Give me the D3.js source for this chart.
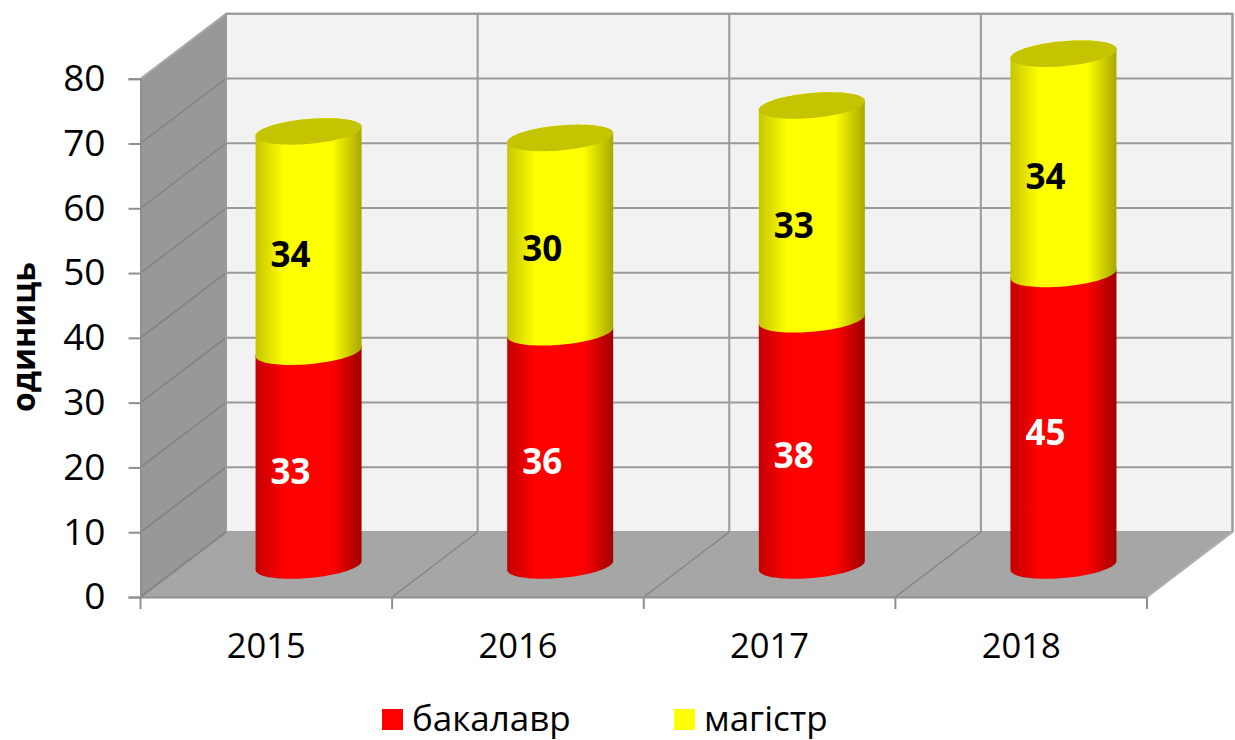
<!DOCTYPE html>
<html>
<head>
<meta charset="utf-8">
<script src="https://cdn.jsdelivr.net/npm/d3@7"></script>
<style>
  html, body { margin: 0; padding: 0; background: #fff; }
  text { font-family: "Open Sans", sans-serif; fill: #000; }
</style>
</head>
<body>
<div id="chart"></div>
<script>
(function() {
  "use strict";

  var categories = ["2015", "2016", "2017", "2018"];
  var seriesNames = ["бакалавр", "магістр"];
  var bachelor = [33, 36, 38, 45];
  var master = [34, 30, 33, 34];
  var yTicks = [0, 10, 20, 30, 40, 50, 60, 70, 80];
  var axisTitle = "одиниць";

  var width = 1235, height = 740;
  var depthX = 85.5, depthY = 65;
  var radiusX = 53, radiusY = 12.5, shear = 4.5;
  var gridColor = "#8f8f8f";

  var svg = d3.select("#chart").append("svg")
    .attr("width", width)
    .attr("height", height)
    .style("display", "block");

  var x = d3.scaleBand().domain(categories).range([140.5, 1147]);
  var y = d3.scaleLinear().domain([0, 80]).range([597, 78.7]);
  var x0 = x.range()[0], x1 = x.range()[1];
  var edges = d3.range(categories.length + 1).map(function(i) {
    return x0 + i * x.step();
  });

  function poly(points) {
    return "M" + points.join("L") + "Z";
  }

  /* ------- WALLS AND FLOOR -------*/

  svg.append("path")
    .attr("d", poly([[x0 + depthX, y(80) - depthY], [x1 + depthX, y(80) - depthY],
      [x1 + depthX, y(0) - depthY], [x0 + depthX, y(0) - depthY]]))
    .attr("fill", "#f2f2f2")
    .attr("stroke", "#a0a0a0")
    .attr("stroke-width", 2);

  svg.append("path")
    .attr("d", poly([[x0, y(80)], [x0 + depthX, y(80) - depthY],
      [x0 + depthX, y(0) - depthY], [x0, y(0)]]))
    .attr("fill", "#989898");

  svg.append("path")
    .attr("d", poly([[x0, y(0)], [x0 + depthX, y(0) - depthY],
      [x1 + depthX, y(0) - depthY], [x1, y(0)]]))
    .attr("fill", "#a6a6a6");

  var grid = svg.append("g")
    .attr("fill", "none")
    .attr("stroke", gridColor)
    .attr("stroke-width", 2);

  // back wall and side wall lines for every value tick
  yTicks.forEach(function(v) {
    if (v > 0) {
      grid.append("path")
        .attr("stroke", "#9a9a9a")
        .attr("d", "M" + [x0 + depthX, y(v) - depthY] + "L" + [x1 + depthX, y(v) - depthY]);
    }
    grid.append("path")
      .attr("stroke-width", v === 80 ? 2 : 1.5)
      .attr("stroke", v === 0 ? "#8a8a8a" : (v === 80 ? "#a8a8a8" : "#828282"))
      .attr("d", "M" + [x0, y(v)] + "L" + [x0 + depthX, y(v) - depthY]);
  });

  // vertical lines on back wall, diagonals on the floor
  edges.forEach(function(e, i) {
    grid.append("path")
      .attr("stroke", "#9a9a9a")
      .attr("d", "M" + [e + depthX, y(80) - depthY] + "L" + [e + depthX, y(0) - depthY]);
    grid.append("path")
      .attr("stroke-width", i === 0 || i === categories.length ? 2 : 1.5)
      .attr("stroke", i === categories.length ? "#b0b0b0" : "#858585")
      .attr("d", "M" + [e, y(0)] + "L" + [e + depthX, y(0) - depthY]);
  });

  /* ------- CYLINDERS -------*/

  var defs = svg.append("defs");

  function addGradient(id, edgeLeft, mid, edgeRight) {
    var g = defs.append("linearGradient").attr("id", id);
    [[0, edgeLeft], [0.27, mid], [0.72, mid], [1, edgeRight]].forEach(function(s) {
      g.append("stop").attr("offset", s[0]).attr("stop-color", s[1]);
    });
  }
  addGradient("red-side", "#c40000", "#ff0000", "#a00000");
  addGradient("yellow-side", "#c6c600", "#ffff00", "#a8a800");

  function ringPoint(cx, cy, t) {
    return [cx + radiusX * Math.cos(t), cy + radiusY * Math.sin(t) - shear * Math.cos(t)];
  }

  var steps = d3.range(0, 49).map(function(i) { return i / 48 * Math.PI; });

  // lower half of the base ring, then back across the upper half of the top ring
  function sidePath(cx, yBottom, yTop) {
    var lower = steps.map(function(t) { return ringPoint(cx, yBottom, t); });
    var upper = steps.map(function(t) { return ringPoint(cx, yTop, Math.PI + t); });
    return poly(lower.concat(upper));
  }

  function capPath(cx, cy) {
    return poly(d3.range(0, 96).map(function(i) {
      return ringPoint(cx, cy, i / 96 * 2 * Math.PI);
    }));
  }

  function centerX(cat) {
    return x(cat) + x.bandwidth() / 2 + depthX / 2 - 0.5;
  }
  function centerY(v) {
    return y(v) - depthY / 2 + 1;
  }

  var bars = svg.append("g").selectAll("g")
    .data(categories)
    .enter()
    .append("g");

  bars.append("path")
    .attr("fill", "url(#red-side)")
    .attr("d", function(d, i) {
      return sidePath(centerX(d), centerY(0), centerY(bachelor[i]));
    });

  bars.append("path")
    .attr("fill", "url(#yellow-side)")
    .attr("d", function(d, i) {
      return sidePath(centerX(d), centerY(bachelor[i]), centerY(bachelor[i] + master[i]));
    });

  bars.append("path")
    .attr("fill", "#c4c400")
    .attr("d", function(d, i) {
      return capPath(centerX(d), centerY(bachelor[i] + master[i]));
    });

  /* ------- DATA LABELS -------*/

  var labelShiftX = -18, labelShiftY = 13;

  bars.append("text")
    .attr("x", function(d) { return centerX(d) + labelShiftX; })
    .attr("y", function(d, i) { return centerY(bachelor[i] / 2) + labelShiftY; })
    .attr("dy", "0.36em")
    .attr("text-anchor", "middle")
    .attr("font-size", 35)
    .attr("font-weight", 700)
    .style("fill", "#fff")
    .text(function(d, i) { return bachelor[i]; });

  bars.append("text")
    .attr("x", function(d) { return centerX(d) + labelShiftX; })
    .attr("y", function(d, i) { return centerY(bachelor[i] + master[i] / 2) + labelShiftY; })
    .attr("dy", "0.36em")
    .attr("text-anchor", "middle")
    .attr("font-size", 35)
    .attr("font-weight", 700)
    .text(function(d, i) { return master[i]; });

  /* ------- AXES -------*/

  var yAxis = svg.append("g")
    .attr("transform", "translate(" + x0 + ",0)")
    .call(d3.axisLeft(y).tickValues(yTicks).tickSize(12).tickPadding(23));

  var xAxis = svg.append("g")
    .attr("transform", "translate(0," + y(0) + ")")
    .call(d3.axisBottom(x).tickSize(0).tickPadding(37));

  yAxis.select(".domain").attr("stroke", gridColor).attr("stroke-width", 2);
  xAxis.select(".domain").attr("stroke", gridColor).attr("stroke-width", 2);
  yAxis.selectAll("line").attr("stroke", gridColor).attr("stroke-width", 2);
  yAxis.selectAll("text").attr("font-size", 37).attr("font-family", "Open Sans");
  xAxis.selectAll("text").attr("font-size", 34.5).attr("font-family", "Open Sans");

  xAxis.selectAll(".edge-tick")
    .data(edges)
    .enter()
    .append("line")
    .attr("class", "edge-tick")
    .attr("x1", function(d) { return d; })
    .attr("x2", function(d) { return d; })
    .attr("y1", 0)
    .attr("y2", 12)
    .attr("stroke", gridColor)
    .attr("stroke-width", 2);

  svg.append("text")
    .attr("transform", "translate(35,337) rotate(-90)")
    .attr("text-anchor", "middle")
    .attr("font-size", 32)
    .attr("font-weight", 700)
    .text(axisTitle);

  /* ------- LEGEND -------*/

  var legendColor = d3.scaleOrdinal().domain(seriesNames).range(["#ff0000", "#ffff00"]);
  var legendX = d3.scaleOrdinal().domain(seriesNames).range([382, 674]);

  var legend = svg.append("g").selectAll("g")
    .data(seriesNames)
    .enter()
    .append("g")
    .attr("transform", function(d) { return "translate(" + legendX(d) + ",709)"; });

  legend.append("rect")
    .attr("width", 21)
    .attr("height", 21)
    .attr("fill", function(d) { return legendColor(d); });

  legend.append("text")
    .attr("x", 30)
    .attr("y", 22)
    .attr("font-size", 35)
    .text(function(d) { return d; });
})();
</script>
</body>
</html>
